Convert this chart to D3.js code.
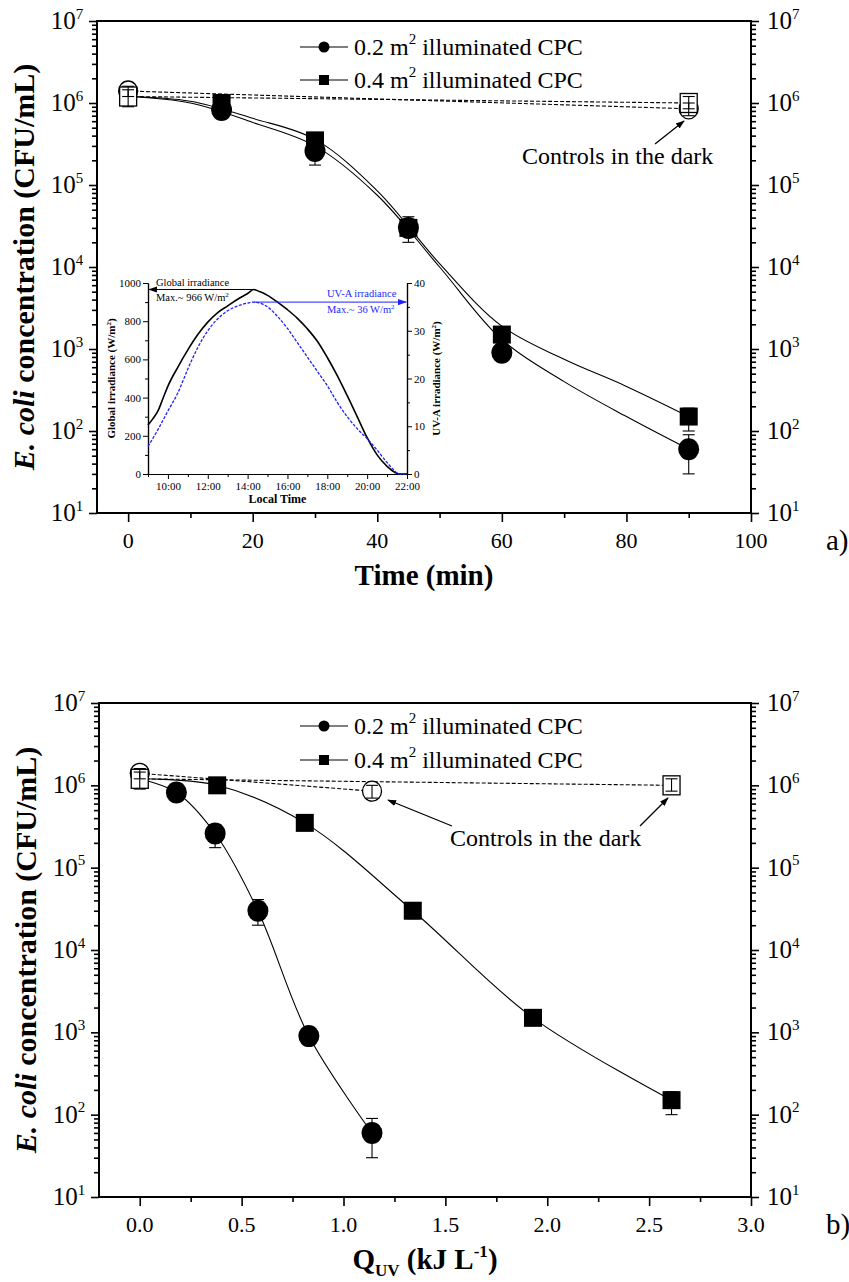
<!DOCTYPE html>
<html><head><meta charset="utf-8">
<script src="https://cdn.jsdelivr.net/npm/d3@7"></script>
<style>
body{margin:0;background:#fff}
text{font-family:"Liberation Serif","Times New Roman",serif;fill:#000}
</style>
</head><body>
<svg id="c" width="849" height="1282" xmlns="http://www.w3.org/2000/svg" font-family="Liberation Serif"></svg>
<script>
// ================= DATA =================
// Panel a) : concentration vs time
const timeMin = [15, 30, 45, 60, 90];
const cpc02 = [8.2e5, 2.6e5, 3.0e4, 900, 60];
const cpc02Lo = [7.4e5, 1.75e5, 2.0e4, 820, 30];
const cpc02Hi = [9.0e5, 3.3e5, 4.1e4, 1000, 90];
const cpc04 = [1.0e6, 3.5e5, 3.0e4, 1.5e3, 150];
const cpc04Lo = [9.0e5, 3.0e5, 2.4e4, 1.3e3, 100];
const cpc04Hi = [1.1e6, 4.0e5, 3.6e4, 1.7e3, 190];
const startConc = 1.2e6;

// dark controls
const ctrlTime = [0, 90];
const ctrl02 = [1.4e6, 8.5e5];
const ctrl02Lo = [1.2e6, 7.0e5];
const ctrl02Hi = [1.6e6, 1.0e6];
const ctrl04 = [1.2e6, 1.0e6];
const ctrl04Lo = [9.0e5, 8.5e5];
const ctrl04Hi = [1.45e6, 1.2e6];

// fitted curves read from panel a)
const fitTime = [0, 10, 20, 30, 40, 50, 60, 70, 80, 90];
const fit02 = [1.2e6, 1.0e6, 5.8e5, 3.0e5, 7.5e4, 1.0e4, 1.3e3, 4.0e2, 1.5e2, 60];
const fit04 = [1.2e6, 1.05e6, 6.5e5, 3.6e5, 8.5e4, 1.1e4, 1.9e3, 7.5e2, 3.5e2, 150];

// Panel b) : concentration vs Q_UV
const quv02 = [0.18, 0.37, 0.58, 0.83, 1.14];
const quv04 = [0.38, 0.81, 1.34, 1.93, 2.61];
const ctrlQuv02 = [0, 1.14];
const ctrlQuv04 = [0, 2.61];

// Inset : irradiance vs local time
const hourGlobal = [9.0, 9.25, 9.5, 9.75, 10, 10.5, 11, 11.5, 12, 12.5, 13, 13.5, 14, 14.3, 14.6, 15, 15.5, 16, 16.5, 17, 17.5, 18, 18.5, 19, 19.5, 20, 20.5, 21, 21.4, 21.6, 22];
const globalIrr = [257, 290, 330, 395, 460, 560, 650, 730, 795, 845, 880, 915, 945, 966, 955, 935, 900, 860, 815, 760, 695, 610, 515, 410, 300, 190, 100, 40, 8, 0, 0];
const hourUVA = [9.0, 9.5, 10, 10.5, 11, 11.5, 12, 12.5, 13, 13.5, 14, 14.3, 14.6, 15, 15.5, 16, 16.5, 17, 17.5, 18, 18.5, 19, 19.5, 20, 20.5, 21, 21.3, 21.6, 22];
const uvaIrr = [5.8, 9.3, 13.2, 17.0, 22, 26.5, 30, 32.5, 34.2, 35.2, 35.8, 36, 35.8, 35, 33, 30.5, 27.5, 24.5, 21.5, 18.5, 15, 12, 9.5, 7.4, 5, 2.4, 1.0, 0, 0];

// tick labels
const timeTicks = [0, 20, 40, 60, 80, 100];
const quvTicks = [0.0, 0.5, 1.0, 1.5, 2.0, 2.5, 3.0];
const decadeTicks = [1e1, 1e2, 1e3, 1e4, 1e5, 1e6, 1e7];
const insetHourTicks = [10, 12, 14, 16, 18, 20, 22];
const insetGlobalTicks = [0, 200, 400, 600, 800, 1000];
const insetUVTicks = [0, 10, 20, 30, 40];

const legendLabels = ["0.2 m", "0.4 m"];
const annotation = "Controls in the dark";

// ================= DRAWING =================
const svg = d3.select("#c");
const defs = svg.append("defs");
function arrowDef(id, color) {
  defs.append("marker").attr("id", id).attr("viewBox", "0 0 10 10")
    .attr("refX", 9).attr("refY", 5).attr("markerWidth", 9).attr("markerHeight", 9)
    .attr("markerUnits", "userSpaceOnUse").attr("orient", "auto")
    .append("path").attr("d", "M0,1.5 L10,5 L0,8.5 Z").attr("fill", color);
}
arrowDef("arrK", "#000");
arrowDef("arrB", "#1f1fff");
arrowDef("arrS", "#000");

function minorLog() {
  const out = [];
  for (let e = 1; e < 7; e++) for (let m = 2; m <= 9; m++) out.push(m * Math.pow(10, e));
  return out;
}

function supLabel(sel, base, exp, size) {
  sel.append("tspan").text(base);
  sel.append("tspan").attr("font-size", size * 0.6).attr("dy", -size * 0.42).text(exp);
}

function mainPanel(o) {
  const g = svg.append("g");
  const x = d3.scaleLinear().domain(o.xDomain).range([o.left, o.right]);
  const y = d3.scaleLog().domain([10, 1e7]).range([o.bottom, o.top]);

  const clean = s => { s.select(".domain").remove(); s.selectAll("text").remove();
    s.selectAll("line").attr("stroke", "#000").attr("stroke-width", 1.6); };

  g.append("g").attr("transform", `translate(0,${o.bottom})`)
    .call(d3.axisBottom(x).tickValues(o.xMinor).tickSize(5)).call(clean);
  g.append("g").attr("transform", `translate(0,${o.bottom})`)
    .call(d3.axisBottom(x).tickValues(o.xTicks).tickSize(9)).call(clean);
  [[o.left, d3.axisLeft], [o.right, d3.axisRight]].forEach(([px, ax]) => {
    g.append("g").attr("transform", `translate(${px},0)`)
      .call(ax(y).tickValues(minorLog()).tickSize(5)).call(clean);
    g.append("g").attr("transform", `translate(${px},0)`)
      .call(ax(y).tickValues(decadeTicks).tickSize(8)).call(clean);
  });

  g.append("rect").attr("x", o.left).attr("y", o.top)
    .attr("width", o.right - o.left).attr("height", o.bottom - o.top)
    .attr("fill", "none").attr("stroke", "#000").attr("stroke-width", 2);

  g.selectAll(".xl").data(o.xTicks).enter().append("text")
    .attr("x", d => x(d)).attr("y", o.bottom + 35).attr("text-anchor", "middle")
    .attr("font-size", 22).text(o.xFmt);
  decadeTicks.forEach(d => {
    const e = Math.round(Math.log10(d));
    const tl = g.append("text").attr("x", o.left - 30).attr("y", y(d) + 8)
      .attr("text-anchor", "middle").attr("font-size", 25);
    supLabel(tl, "10", e, 25);
    const tr = g.append("text").attr("x", o.right + 16).attr("y", y(d) + 8)
      .attr("text-anchor", "start").attr("font-size", 25);
    supLabel(tr, "10", e, 25);
  });

  const yt = g.append("text").attr("transform", `translate(${o.left - 63},${(o.top + o.bottom) / 2}) rotate(-90)`)
    .attr("text-anchor", "middle").attr("font-size", 30).attr("font-weight", "bold");
  yt.append("tspan").attr("font-style", "italic").text("E. coli");
  yt.append("tspan").text(" concentration (CFU/mL)");

  g.append("text").attr("x", 826).attr("y", o.bottom + 37).attr("font-size", 29).text(o.letter);

  o.xTitle(g, (o.left + o.right) / 2, o.bottom + 72);

  const line = d3.line().x(d => x(d[0])).y(d => y(d[1]));
  o.curves.forEach(c => {
    g.append("path").datum(c).attr("fill", "none").attr("stroke", "#000").attr("stroke-width", 1.1)
      .attr("d", line.curve(d3.curveCatmullRom.alpha(0.5)));
  });
  o.controls.forEach(c => {
    g.append("path").datum(c.xs.map((v, i) => [v, c.ys[i]]))
      .attr("fill", "none").attr("stroke", "#000").attr("stroke-width", 1.1)
      .attr("stroke-dasharray", "4,2").attr("d", line.curve(d3.curveLinear));
  });

  function errBars(xs, lo, hi) {
    xs.forEach((v, i) => {
      const cx = x(v);
      g.append("line").attr("x1", cx).attr("x2", cx).attr("y1", y(lo[i])).attr("y2", y(hi[i]))
        .attr("stroke", "#000").attr("stroke-width", 1.1);
      [lo[i], hi[i]].forEach(w => g.append("line").attr("x1", cx - 6).attr("x2", cx + 6)
        .attr("y1", y(w)).attr("y2", y(w)).attr("stroke", "#000").attr("stroke-width", 1.1));
    });
  }
  errBars(o.sq.xs, cpc04Lo, cpc04Hi);
  errBars(o.ci.xs, cpc02Lo, cpc02Hi);
  o.sq.xs.forEach((v, i) => g.append("rect").attr("x", x(v) - 9).attr("y", y(cpc04[i]) - 9)
    .attr("width", 18).attr("height", 18).attr("fill", "#000"));
  o.ci.xs.forEach((v, i) => g.append("ellipse").attr("cx", x(v)).attr("cy", y(cpc02[i]))
    .attr("rx", 10.5).attr("ry", 11).attr("fill", "#000"));

  const cc = o.controls[0], cs = o.controls[1];
  cc.xs.forEach((v, i) => g.append("ellipse").attr("cx", x(v)).attr("cy", y(cc.ys[i]))
    .attr("rx", 9.5).attr("ry", 10).attr("fill", "#fff").attr("stroke", "#000").attr("stroke-width", 1.3));
  cs.xs.forEach((v, i) => g.append("rect").attr("x", x(v) - 8.5).attr("y", y(cs.ys[i]) - 9.5)
    .attr("width", 17).attr("height", 19).attr("fill", "#fff").attr("stroke", "#000").attr("stroke-width", 1.3));
  errBars(cc.xs, ctrl02Lo, ctrl02Hi);
  errBars(cs.xs, ctrl04Lo, ctrl04Hi);

  const leg = [{ sym: "c", label: legendLabels[0], yy: o.legY[0] }, { sym: "s", label: legendLabels[1], yy: o.legY[1] }];
  leg.forEach(l => {
    const x0 = o.legX;
    g.append("line").attr("x1", x0).attr("x2", x0 + 48).attr("y1", l.yy).attr("y2", l.yy)
      .attr("stroke", "#000").attr("stroke-width", 1.1);
    if (l.sym === "c") g.append("circle").attr("cx", x0 + 24).attr("cy", l.yy).attr("r", 5.5).attr("fill", "#000");
    else g.append("rect").attr("x", x0 + 19).attr("y", l.yy - 5).attr("width", 10).attr("height", 10).attr("fill", "#000");
    const t = g.append("text").attr("x", x0 + 54).attr("y", l.yy + 8).attr("font-size", 24);
    t.append("tspan").text(l.label);
    t.append("tspan").attr("font-size", 15).attr("dy", -11).text("2");
    t.append("tspan").attr("dy", 11).text(" illuminated CPC");
  });

  g.append("text").attr("x", o.ann.tx).attr("y", o.ann.ty).attr("font-size", 24).text(annotation);
  o.ann.arrows.forEach(a => g.append("line").attr("x1", a[0]).attr("y1", a[1]).attr("x2", a[2]).attr("y2", a[3])
    .attr("stroke", "#000").attr("stroke-width", 1.3).attr("marker-end", "url(#arrS)"));

  return { g, x, y };
}

// ---------- Panel a ----------
mainPanel({
  left: 97, right: 751, top: 21, bottom: 513, xDomain: [-5, 100],
  xTicks: timeTicks, xMinor: [10, 30, 50, 70, 90], xFmt: d => d, letter: "a)",
  xTitle: (g, cx, cy) => g.append("text").attr("x", cx).attr("y", cy).attr("text-anchor", "middle")
    .attr("font-size", 29).attr("font-weight", "bold").text("Time (min)"),
  curves: [fitTime.map((t, i) => [t, fit02[i]]), fitTime.map((t, i) => [t, fit04[i]])],
  controls: [{ xs: ctrlTime, ys: ctrl02 }, { xs: ctrlTime, ys: ctrl04 }],
  sq: { xs: timeMin }, ci: { xs: timeMin },
  legX: 300, legY: [47, 80],
  ann: { tx: 522, ty: 164, arrows: [[655, 144, 684, 121]] }
});

// ---------- Panel b ----------
mainPanel({
  left: 99, right: 751, top: 703, bottom: 1197, xDomain: [-0.2, 3.0],
  xTicks: quvTicks, xMinor: [0.25, 0.75, 1.25, 1.75, 2.25, 2.75], xFmt: d3.format(".1f"), letter: "b)",
  xTitle: (g, cx, cy) => {
    const t = g.append("text").attr("x", cx).attr("y", cy).attr("text-anchor", "middle")
      .attr("font-size", 29).attr("font-weight", "bold");
    t.append("tspan").text("Q");
    t.append("tspan").attr("font-size", 17).attr("dy", 7).text("UV");
    t.append("tspan").attr("dy", -7).text(" (kJ L");
    t.append("tspan").attr("font-size", 17).attr("dy", -12).text("-1");
    t.append("tspan").attr("dy", 12).text(")");
  },
  curves: [[[0, startConc]].concat(quv02.map((q, i) => [q, cpc02[i]])),
           [[0, startConc]].concat(quv04.map((q, i) => [q, cpc04[i]]))],
  controls: [{ xs: ctrlQuv02, ys: ctrl02 }, { xs: ctrlQuv04, ys: ctrl04 }],
  sq: { xs: quv04 }, ci: { xs: quv02 },
  legX: 300, legY: [726, 760],
  ann: { tx: 450, ty: 846, arrows: [[452, 826, 388, 800], [640, 826, 668, 798]] }
});

// ---------- Inset ----------
(function inset() {
  const L = 148, R = 407, T = 283, Bt = 474;
  const g = svg.append("g");
  const x = d3.scaleLinear().domain([9, 22]).range([L, R]);
  const yG = d3.scaleLinear().domain([0, 1000]).range([Bt, T]);
  const yU = d3.scaleLinear().domain([0, 40]).range([Bt, T]);
  const st = s => { s.attr("font-family", "Liberation Serif");
    s.select(".domain").attr("stroke", "#000").attr("stroke-width", 1.2);
    s.selectAll("line").attr("stroke", "#000").attr("stroke-width", 1);
    s.selectAll("text").attr("font-size", 11).attr("fill", "#000"); };
  const hrs = d3.range(9, 23);
  g.append("g").attr("transform", `translate(0,${Bt})`)
    .call(d3.axisBottom(x).tickValues(hrs.filter(h => h % 2 === 1)).tickSize(3).tickFormat("").tickSizeOuter(0)).call(st);
  g.append("g").attr("transform", `translate(0,${Bt})`)
    .call(d3.axisBottom(x).tickValues(insetHourTicks).tickSize(5).tickSizeOuter(0).tickPadding(3)
      .tickFormat(d => d + ":00")).call(st);
  g.append("g").attr("transform", `translate(${L},0)`)
    .call(d3.axisLeft(yG).tickValues([100, 300, 500, 700, 900]).tickSize(3).tickFormat("").tickSizeOuter(0)).call(st);
  g.append("g").attr("transform", `translate(${L},0)`)
    .call(d3.axisLeft(yG).tickValues(insetGlobalTicks).tickSize(5).tickSizeOuter(0).tickPadding(2)
      .tickFormat(d3.format("d"))).call(st);
  g.append("g").attr("transform", `translate(${R},0)`)
    .call(d3.axisRight(yU).tickValues([5, 15, 25, 35]).tickSize(3).tickFormat("").tickSizeOuter(0)).call(st);
  g.append("g").attr("transform", `translate(${R},0)`)
    .call(d3.axisRight(yU).tickValues(insetUVTicks).tickSize(5).tickSizeOuter(0).tickPadding(2)
      .tickFormat(d3.format("d"))).call(st);

  g.append("text").attr("x", (L + R) / 2).attr("y", Bt + 29).attr("text-anchor", "middle")
    .attr("font-size", 12).attr("font-weight", "bold").text("Local Time");
  const lt = g.append("text").attr("transform", `translate(${L - 33},${(T + Bt) / 2}) rotate(-90)`)
    .attr("text-anchor", "middle").attr("font-size", 11).attr("font-weight", "bold");
  lt.append("tspan").text("Global irradiance (W/m");
  lt.append("tspan").attr("font-size", 7).attr("dy", -4).text("2");
  lt.append("tspan").attr("dy", 4).text(")");
  const rt = g.append("text").attr("transform", `translate(${R + 33},${(T + Bt) / 2}) rotate(-90)`)
    .attr("text-anchor", "middle").attr("font-size", 11).attr("font-weight", "bold");
  rt.append("tspan").text("UV-A irradiance (W/m");
  rt.append("tspan").attr("font-size", 7).attr("dy", -4).text("2");
  rt.append("tspan").attr("dy", 4).text(")");

  g.append("path").datum(hourGlobal.map((h, i) => [h, globalIrr[i]])).attr("fill", "none")
    .attr("stroke", "#000").attr("stroke-width", 1.6)
    .attr("d", d3.line().x(d => x(d[0])).y(d => yG(d[1])).curve(d3.curveMonotoneX));
  g.append("path").datum(hourUVA.map((h, i) => [h, uvaIrr[i]])).attr("fill", "none")
    .attr("stroke", "#1f1fff").attr("stroke-width", 1.3).attr("stroke-dasharray", "3,1.5")
    .attr("d", d3.line().x(d => x(d[0])).y(d => yU(d[1])).curve(d3.curveMonotoneX));

  const gmax = 966, umax = 36, hpk = 14.3;
  g.append("line").attr("x1", x(hpk) + 2).attr("x2", L + 1).attr("y1", yG(gmax)).attr("y2", yG(gmax))
    .attr("stroke", "#000").attr("stroke-width", 1).attr("marker-end", "url(#arrK)");
  g.append("text").attr("x", 156).attr("y", yG(gmax) - 3).attr("font-size", 10.5).text("Global irradiance");
  const tg = g.append("text").attr("x", 156).attr("y", yG(gmax) + 12).attr("font-size", 10.5);
  tg.append("tspan").text("Max.~ 966 W/m");
  tg.append("tspan").attr("font-size", 7).attr("dy", -4).text("2");

  g.append("line").attr("x1", x(hpk)).attr("x2", R - 1).attr("y1", yU(umax)).attr("y2", yU(umax))
    .attr("stroke", "#1f1fff").attr("stroke-width", 1).attr("marker-end", "url(#arrB)");
  g.append("text").attr("x", 327).attr("y", yU(umax) - 5).attr("font-size", 10.5).style("fill", "#1f1fff").text("UV-A irradiance");
  const tu = g.append("text").attr("x", 327).attr("y", yU(umax) + 11).attr("font-size", 10.5).style("fill", "#1f1fff");
  tu.append("tspan").text("Max.~ 36 W/m");
  tu.append("tspan").attr("font-size", 7).attr("dy", -4).text("2");
})();
</script>
</body></html>
